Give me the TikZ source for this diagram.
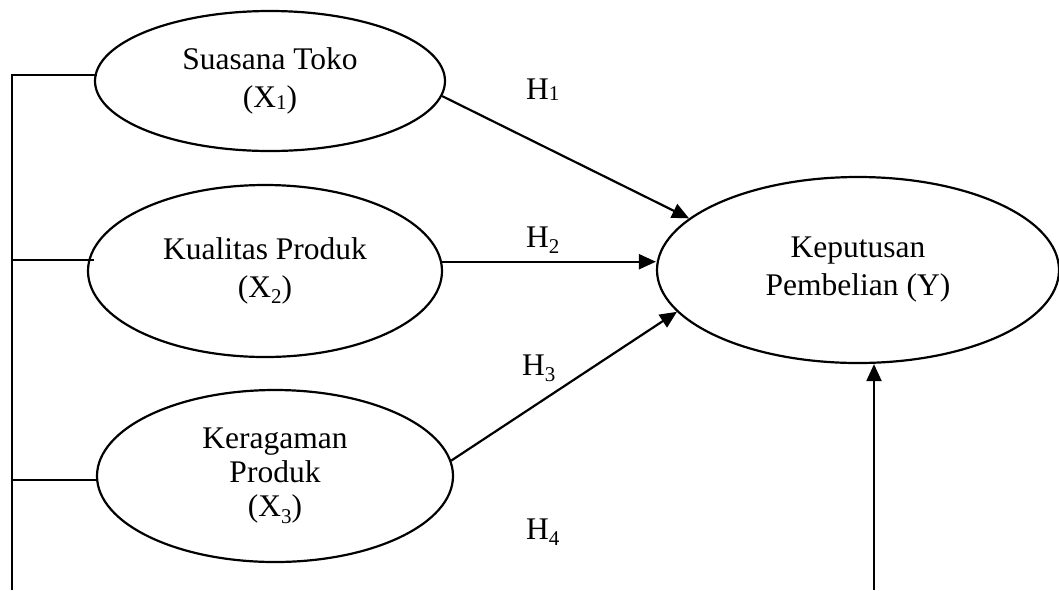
\documentclass[tikz,border=0pt]{standalone}
\usepackage{fontspec}
\setmainfont{Liberation Serif}
\usetikzlibrary{shapes.geometric,arrows.meta}
\newcommand{\lsub}[1]{\raisebox{-0.2em}{\fontsize{21}{21}\selectfont #1}}
\newcommand{\bsub}[1]{\raisebox{-0.05em}{\fontsize{21}{21}\selectfont #1}}
\begin{document}
\begin{tikzpicture}[x=1pt,y=-1pt, line width=2.2pt,
  var/.style={ellipse, draw, inner sep=0pt, align=center, font=\fontsize{31.5}{38}\selectfont},
  arr/.style={-{Triangle[length=17pt,width=15pt]}},
  hlab/.style={anchor=base west, inner sep=0pt, font=\fontsize{31.5}{36}\selectfont}]
\useasboundingbox (0,0) rectangle (1059,590);
\node[var, minimum width=350pt, minimum height=140pt] (x1) at (270,81) {Suasana Toko\\(X\bsub{1})};
\node[var, minimum width=354pt, minimum height=172pt] (x2) at (265,271) {Kualitas Produk\\(X\lsub{2})};
\node[var, minimum width=356pt, minimum height=172pt, font=\fontsize{31.5}{34}\selectfont] (x3) at (275,476) {Keragaman\\Produk\\(X\lsub{3})};
\node[var, minimum width=402pt, minimum height=186pt] (y) at (858,270) {Keputusan\\Pembelian (Y)};
\coordinate (t1) at (12,75);
\coordinate (t2) at (12,260);
\coordinate (t3) at (12,480);
\coordinate (bot) at (12,590);
\draw (bot) -- (t1) -- (t1 -| x1.west) -- ++(3,0);
\draw (t2) -- (t2 -| x2.west) -- ++(7,0);
\draw (t3) -- (t3 -| x3.west);
\draw[arr] (x1.-5) -- (y.163);
\draw[arr] (x2.3) -- (x2.3 -| y.west);
\draw[arr] (x3.5) -- (y.193);
\coordinate (b) at (874,590);
\draw[arr] (b) -- (b |- y.south);
\node[hlab] (h1) at (525,99) {H\bsub{1}};
\node[hlab] (h2) at (525,247) {H\lsub{2}};
\node[hlab] (h3) at (521,375) {H\lsub{3}};
\node[hlab] (h4) at (525,539) {H\lsub{4}};
\end{tikzpicture}
\end{document}
